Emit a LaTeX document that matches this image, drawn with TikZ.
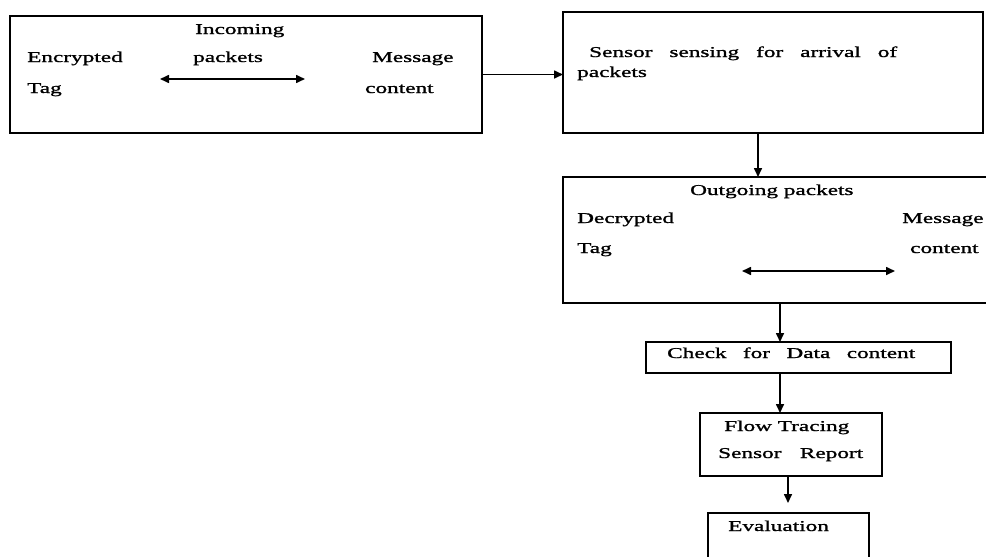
\documentclass[tikz,border=0pt]{standalone}
\usepackage{fontspec}
\setmainfont{Liberation Serif}[FakeStretch=1.55, FakeBold=1.3]
\usetikzlibrary{arrows.meta}
\begin{document}
\begin{tikzpicture}[x=1pt,y=-1pt,
  box/.style={draw, line width=1.8pt, inner sep=0pt, outer sep=0pt, anchor=north west},
  lbl/.style={anchor=base west, inner sep=0pt, font=\fontsize{15}{17}\selectfont},
  arr/.style={-{Triangle[length=9pt,width=8pt]}, line width=1.6pt},
  darr/.style={{Triangle[length=9pt,width=8pt]}-{Triangle[length=9pt,width=8pt]}, line width=1.6pt}]
\useasboundingbox (0,0) rectangle (986,557);
% boxes
\node[box, minimum width=472pt, minimum height=117pt] (b1) at (10,16) {};
\node[box, minimum width=420pt, minimum height=121pt] (b2) at (563,12) {};
\node[box, minimum width=440pt, minimum height=126pt] (b3) at (563,177) {};
\node[box, minimum width=305pt, minimum height=31pt] (b4) at (646,342) {};
\node[box, minimum width=182pt, minimum height=63pt] (b5) at (700,413) {};
\node[box, minimum width=161pt, minimum height=60pt] (b6) at (708,513) {};
% box 1 texts
\node[lbl] (t1a) at (195,34) {Incoming};
\node[lbl] (t1b) at (27,62) {Encrypted};
\node[lbl] (t1c) at (193,62) {packets};
\node[lbl] (t1d) at (372,62) {Message};
\node[lbl] (t1e) at (27,93) {Tag};
\node[lbl] (t1f) at (365,93) {content};
\coordinate (d1a) at (160,79);
\coordinate (d1b) at (305,79);
\draw[darr] (d1a) -- (d1b);
% box 2 texts
\node[lbl] (t2a) at (589,57) {\makebox[308pt][s]{Sensor sensing for arrival of}};
\node[lbl] (t2b) at (577,77) {packets};
% box 3 texts
\node[lbl] (t3a) at (690,195) {Outgoing packets};
\node[lbl] (t3b) at (577,223) {Decrypted};
\node[lbl] (t3c) at (577,253) {Tag};
\node[lbl] (t3d) at (902,223) {Message};
\node[lbl] (t3e) at (910,253) {content};
\coordinate (d3a) at (742,271);
\coordinate (d3b) at (895,271);
\draw[darr] (d3a) -- (d3b);
% box 4-6 texts
\node[lbl] (t4) at (667,358) {\makebox[248pt][s]{Check for Data content}};
\node[lbl] (t5a) at (724,431) {Flow Tracing};
\node[lbl] (t5b) at (718,458) {\makebox[145pt][s]{Sensor Report}};
\node[lbl] (t6) at (728,531) {Evaluation};
% connectors
\draw[arr] (b1.east) -- (b1.east -| b2.west);
\draw[arr] ([xshift=-25pt]b3.north |- b2.south) -- ([xshift=-25pt]b3.north);
\draw[arr] ([xshift=-18.5pt]b4.north |- b3.south) -- ([xshift=-18.5pt]b4.north);
\draw[arr] ([xshift=-11pt]b5.north |- b4.south) -- ([xshift=-11pt]b5.north);
\draw[arr] ([xshift=-0.5pt]b6.north |- b5.south) -- ([xshift=-0.5pt,yshift=10pt]b6.north);
\end{tikzpicture}
\end{document}
